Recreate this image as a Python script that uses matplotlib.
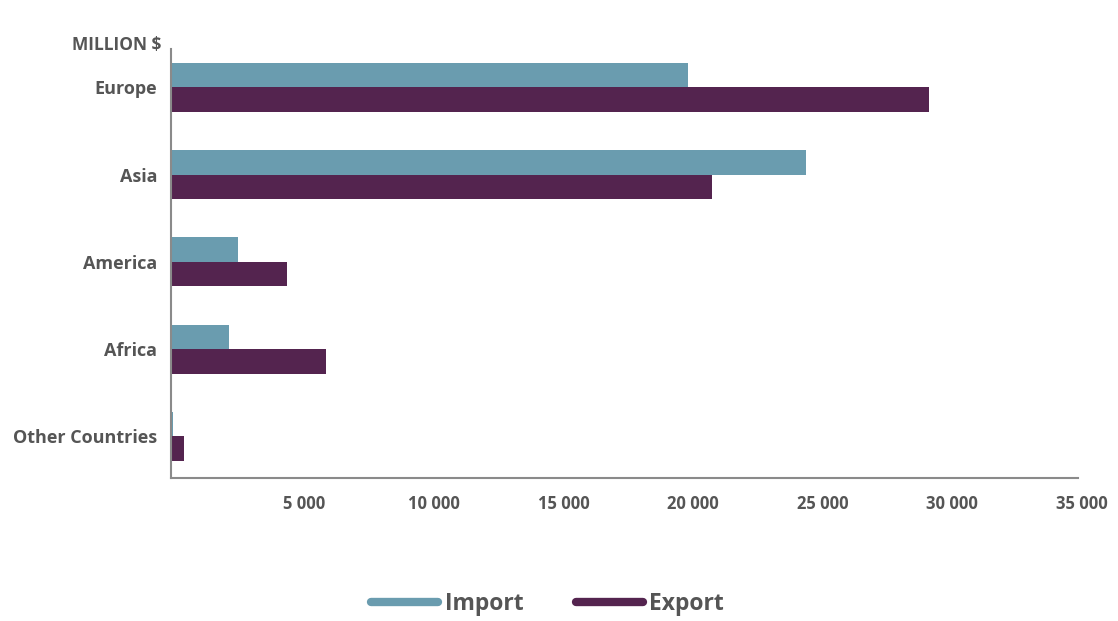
import numpy as np
import matplotlib
matplotlib.use("Agg")
import matplotlib.pyplot as plt
import matplotlib.transforms as mtransforms
from matplotlib.lines import Line2D

# million $
regions = ["Europe", "Asia", "America", "Africa", "Other Countries"]
imports = [19950, 24500, 2600, 2250, 80]
exports = [29250, 20900, 4480, 6000, 500]
xticks = [5000, 10000, 15000, 20000, 25000, 30000, 35000]

TEAL, PLUM = "#6a9caf", "#54244f"
GREY = "#555555"

plt.rcParams["font.family"] = ["Open Sans", "DejaVu Sans"]

fig = plt.figure(figsize=(11.18, 6.21), dpi=100)
ax = fig.add_axes([0.153, 0.230, 0.811, 0.691])

y = np.arange(len(regions))
h = 0.28
ax.barh(y - h / 2, imports, h, color=TEAL)
ax.barh(y + h / 2, exports, h, color=PLUM)

ax.set_ylim(len(regions) - 0.52, -0.44)
ax.set_xlim(0, 35000)
ax.set_yticks(y)
ax.set_yticklabels(regions, fontsize=13, fontweight="bold", color=GREY)
ax.set_xticks(xticks)
ax.set_xticklabels([f"{v:,}".replace(",", " ") for v in xticks],
                   fontsize=12, fontweight="bold", color=GREY)
ax.tick_params(length=0)
ax.tick_params(axis="x", pad=12)
ax.tick_params(axis="y", pad=10)
# tick labels sit a touch right of their ticks in the original
shift = mtransforms.ScaledTranslation(4 / 100, 0, fig.dpi_scale_trans)
for lbl in ax.get_xticklabels():
    lbl.set_transform(lbl.get_transform() + shift)
for s in ("top", "right"):
    ax.spines[s].set_visible(False)
for s in ("left", "bottom"):
    ax.spines[s].set_color("#8a8a8a")
    ax.spines[s].set_linewidth(1.5)

fig.text(0.064, 0.927, "MILLION $", fontsize=12.5, fontweight="bold",
         color=GREY, va="center")

handles = [Line2D([], [], color=TEAL, lw=6, solid_capstyle="round"),
           Line2D([], [], color=PLUM, lw=6, solid_capstyle="round")]
fig.legend(handles, ["Import", "Export"], loc="center", ncol=2,
           bbox_to_anchor=(0.490, 0.027), frameon=False, handlelength=2.9,
           handletextpad=0.3, columnspacing=2.3,
           prop={"size": 16.5, "weight": "bold"}, labelcolor=GREY)

fig.savefig("out.png", dpi=100)
